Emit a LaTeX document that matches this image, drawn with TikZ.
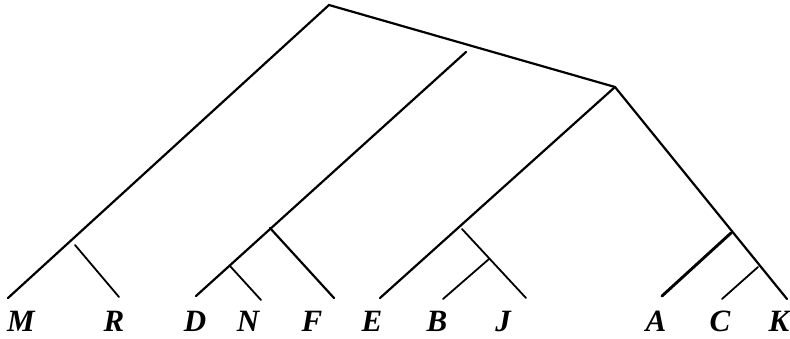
\documentclass[tikz,border=0pt]{standalone}
\usepackage{fontspec}
\setmainfont{Liberation Serif}
\begin{document}
\begin{tikzpicture}[x=1pt,y=-1pt,
  br/.style={line width=2.2pt,line cap=round},
  thick br/.style={line width=2.9pt,line cap=round},
  thin br/.style={line width=1.8pt,line cap=round},
  lab/.style={anchor=base,inner sep=0pt,font=\fontsize{31}{34}\selectfont\bfseries\itshape}]
\useasboundingbox (0,0) rectangle (790,338);
% internal points
\coordinate (root) at (329,5);
\coordinate (r2) at (615,87);
\coordinate (dnfTop) at (466,52);
\coordinate (rTop) at (75,245);
\coordinate (fTop) at (270,228);
\coordinate (nTop) at (230,266);
\coordinate (bjTop) at (462,229);
\coordinate (bTop) at (489,259);
\coordinate (aTop) at (731,233);
\coordinate (cTop) at (758,267);
% tips
\coordinate (tM) at (8,298);
\coordinate (tR) at (119,297);
\coordinate (tD) at (196,296);
\coordinate (tN) at (261,300);
\coordinate (tF) at (334,298);
\coordinate (tE) at (380,298);
\coordinate (tB) at (443,299);
\coordinate (tJ) at (526,298);
\coordinate (tA) at (662,296);
\coordinate (tC) at (722,299);
\coordinate (tK) at (787,299);
% labels
\node[lab] (M) at (21,331) {M};
\node[lab] (R) at (114,331) {R};
\node[lab] (D) at (195,331) {D};
\node[lab] (N) at (248,331) {N};
\node[lab] (F) at (312,331) {F};
\node[lab] (E) at (372,331) {E};
\node[lab] (B) at (437,331) {B};
\node[lab] (J) at (503,331) {J};
\node[lab] (A) at (656,331) {A};
\node[lab] (C) at (720,331) {C};
\node[lab] (K) at (779,331) {K};
% branches
\draw[br] (tM) -- (root) -- (r2);
\draw[br] (r2) -- (tE);
\draw[br] (r2) -- (tK);
\draw[br] (dnfTop) -- (tD);
\draw[thin br] (rTop) -- (tR);
\draw[br] (fTop) -- (tF);
\draw[thin br] (nTop) -- (tN);
\draw[thin br] (bjTop) -- (tJ);
\draw[thin br] (bTop) -- (tB);
\draw[thick br] (aTop) -- (tA);
\draw[thin br] (cTop) -- (tC);
\end{tikzpicture}
\end{document}
